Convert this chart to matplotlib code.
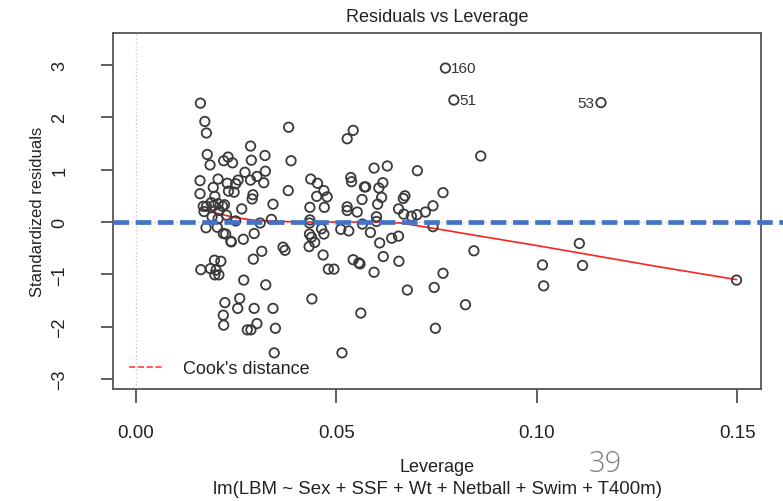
import numpy as np
import matplotlib
matplotlib.use("Agg")
import matplotlib.pyplot as plt
from matplotlib.lines import Line2D

plt.rcParams['font.family'] = ['Liberation Sans', 'DejaVu Sans']

# leverage / standardized residuals
leverage = [
    0.0161, 0.0172, 0.0176, 0.0178, 0.0185, 0.0160, 0.0160, 0.0168, 0.0176, 0.0193,
    0.0197, 0.0205, 0.0219, 0.0230, 0.0241, 0.0228, 0.0231, 0.0245, 0.0249, 0.0255,
    0.0272, 0.0286, 0.0288, 0.0286, 0.0292, 0.0290, 0.0302, 0.0319, 0.0323, 0.0322,
    0.0342, 0.0264, 0.0221, 0.0216, 0.0194, 0.0205, 0.0226, 0.0338, 0.0381, 0.0387,
    0.0380, 0.0436, 0.0453, 0.0469, 0.0477, 0.0451, 0.0434, 0.0470, 0.0434, 0.0527,
    0.0542, 0.0536, 0.0538, 0.0570, 0.0573, 0.0564, 0.0552, 0.0527, 0.0527, 0.0594,
    0.0627, 0.0616, 0.0606, 0.0613, 0.0603, 0.0600, 0.0655, 0.0175, 0.0203, 0.0218,
    0.0224, 0.0237, 0.0238, 0.0268, 0.0295, 0.0314, 0.0293, 0.0196, 0.0212, 0.0162,
    0.0186, 0.0200, 0.0197, 0.0207, 0.0269, 0.0324, 0.0222, 0.0259, 0.0254, 0.0295,
    0.0342, 0.0218, 0.0219, 0.0278, 0.0287, 0.0302, 0.0348, 0.0345, 0.0310, 0.0367,
    0.0372, 0.0433, 0.0433, 0.0438, 0.0446, 0.0432, 0.0463, 0.0469, 0.0467, 0.0511,
    0.0531, 0.0565, 0.0585, 0.0608, 0.0638, 0.0655, 0.0617, 0.0542, 0.0556, 0.0559,
    0.0480, 0.0494, 0.0594, 0.0656, 0.0439, 0.0561, 0.0514, 0.0600, 0.0860, 0.0702,
    0.0671, 0.0667, 0.0766, 0.0741, 0.0722, 0.0701, 0.0687, 0.0668, 0.0741, 0.0843,
    0.0766, 0.0744, 0.0677, 0.0822, 0.0747, 0.1014, 0.1017, 0.1106, 0.1114, 0.1498,
    0.0190, 0.0249, 0.0205, 0.0188, 0.0208, 0.0170,
]
std_resid = [
    2.27, 1.92, 1.70, 1.29, 1.09, 0.79, 0.54, 0.30, 0.30, 0.66,
    0.49, 0.82, 1.17, 1.24, 1.13, 0.74, 0.59, 0.57, 0.73, 0.80,
    0.95, 1.45, 1.18, 0.80, 0.52, 0.44, 0.87, 0.75, 0.97, 1.27,
    0.34, 0.25, 0.33, 0.30, 0.31, 0.06, 0.13, 0.05, 1.81, 1.17,
    0.60, 0.82, 0.74, 0.60, 0.48, 0.49, 0.28, 0.28, 0.04, 1.59,
    1.75, 0.85, 0.77, 0.67, 0.67, 0.43, 0.19, 0.29, 0.22, 1.03,
    1.07, 0.75, 0.65, 0.47, 0.34, 0.10, 0.25, -0.11, -0.10, -0.22,
    -0.23, -0.37, -0.38, -0.33, -0.22, -0.56, -0.71, -0.73, -0.75, -0.91,
    -0.89, -0.92, -1.01, -1.01, -1.11, -1.20, -1.54, -1.46, -1.65, -1.65,
    -1.65, -1.78, -1.97, -2.06, -2.06, -1.94, -2.03, -2.50, -0.02, -0.48,
    -0.54, -0.02, -0.23, -0.29, -0.39, -0.47, -0.13, -0.23, -0.63, -0.14,
    -0.17, -0.04, -0.20, -0.40, -0.31, -0.27, -0.66, -0.72, -0.78, -0.80,
    -0.90, -0.90, -0.96, -0.75, -1.47, -1.74, -2.50, 0.01, 1.26, 0.98,
    0.50, 0.45, 0.56, 0.31, 0.19, 0.14, 0.11, 0.15, -0.09, -0.55,
    -0.98, -1.25, -1.30, -1.58, -2.03, -0.82, -1.22, -0.41, -0.83, -1.11,
    0.10, 0.02, 0.35, 0.37, 0.22, 0.20,
]

# the three flagged observations
flag_ids = ["160", "51", "53"]
flag_lev = [0.0772, 0.0793, 0.1160]
flag_res = [2.94, 2.33, 2.28]

# smoother (red line)
smooth_lev = [0.0165, 0.020, 0.025, 0.030, 0.040, 0.050, 0.060, 0.066, 0.075, 0.085, 0.100, 0.115, 0.130, 0.1498]
smooth_res = [0.25, 0.17, 0.08, 0.03, 0.0, 0.0, 0.0, -0.02, -0.13, -0.26, -0.45, -0.65, -0.85, -1.10]

xticks = [0.00, 0.05, 0.10, 0.15]
xtick_labels = ["0.00", "0.05", "0.10", "0.15"]
yticks = [-3, -2, -1, 0, 1, 2, 3]

fig = plt.figure(figsize=(7.83, 5.02), dpi=100)
ax = fig.add_axes([113 / 783, 112 / 502, 648 / 783, 356 / 502])

txt_col = '#222222'
ax.axvline(0, color='#c8c8c8', ls=':', lw=1)
ax.axhline(0, color='#c8c8c8', ls=':', lw=1)

ax.scatter(leverage + flag_lev, std_resid + flag_res, s=46, facecolors='none',
           edgecolors='#3a3a3a', linewidths=1.3, zorder=3)
ax.plot(smooth_lev, smooth_res, color='#ff2020', lw=1.2, zorder=2)

for lab, lx, ly in zip(flag_ids, flag_lev, flag_res):
    if lab == "53":
        ax.annotate(lab, (lx, ly), xytext=(-5, 0), textcoords='offset points',
                    ha='right', va='center', fontsize=11, color='#333333')
    else:
        ax.annotate(lab, (lx, ly), xytext=(4, 0), textcoords='offset points',
                    ha='left', va='center', fontsize=11, color='#333333')

# slide overlay: thick blue dashed line at zero, running past the frame
ax.axhline(0, xmin=0, xmax=670 / 648, color='#4472C4', lw=3.4,
           dashes=(3.3, 1.4), clip_on=False, zorder=4)

ax.set_xlim(-0.0057, 0.1559)
ax.set_ylim(-3.19, 3.61)
ax.set_xticks(xticks)
ax.set_xticklabels(xtick_labels)
ax.set_yticks(yticks)
ax.tick_params(axis='x', length=10, width=1.2, pad=15, labelsize=13.5, colors='#444444', labelcolor=txt_col)
ax.tick_params(axis='y', length=9, width=1.2, pad=23, labelsize=13, colors='#444444', labelcolor=txt_col,
               labelrotation=90)
for lbl in ax.get_yticklabels():
    lbl.set_va('center')
for sp in ax.spines.values():
    sp.set_color('#555555')
    sp.set_linewidth(1.3)

ax.set_ylabel('Standardized residuals', fontsize=12, color=txt_col)
ax.yaxis.set_label_coords(-0.105, 0.5)

legend_handle = Line2D([0], [0], color='#ff4040', ls='--', lw=1.2)
ax.legend([legend_handle], ["Cook's distance"], loc='lower left', frameon=False,
          fontsize=13, handlelength=1.9, handletextpad=1.1,
          bbox_to_anchor=(0.0, -0.012), labelcolor=txt_col)

fig.text(437 / 783, 1 - 18 / 502, 'Residuals vs Leverage', ha='center', va='center',
         fontsize=13, color=txt_col)
fig.text(437 / 783, 1 - 468 / 502, 'Leverage', ha='center', va='center',
         fontsize=13, color=txt_col)
fig.text(438 / 783, 1 - 490 / 502, 'lm(LBM ~ Sex + SSF + Wt + Netball + Swim + T400m)',
         ha='center', va='center', fontsize=13.4, color=txt_col)
fig.text(605 / 783, 1 - 464 / 502, '39', ha='center', va='center', fontsize=21,
         color='#7f7f7f', family=['Open Sans', 'DejaVu Sans'], fontweight='light')

fig.savefig('out.png', dpi=100)
